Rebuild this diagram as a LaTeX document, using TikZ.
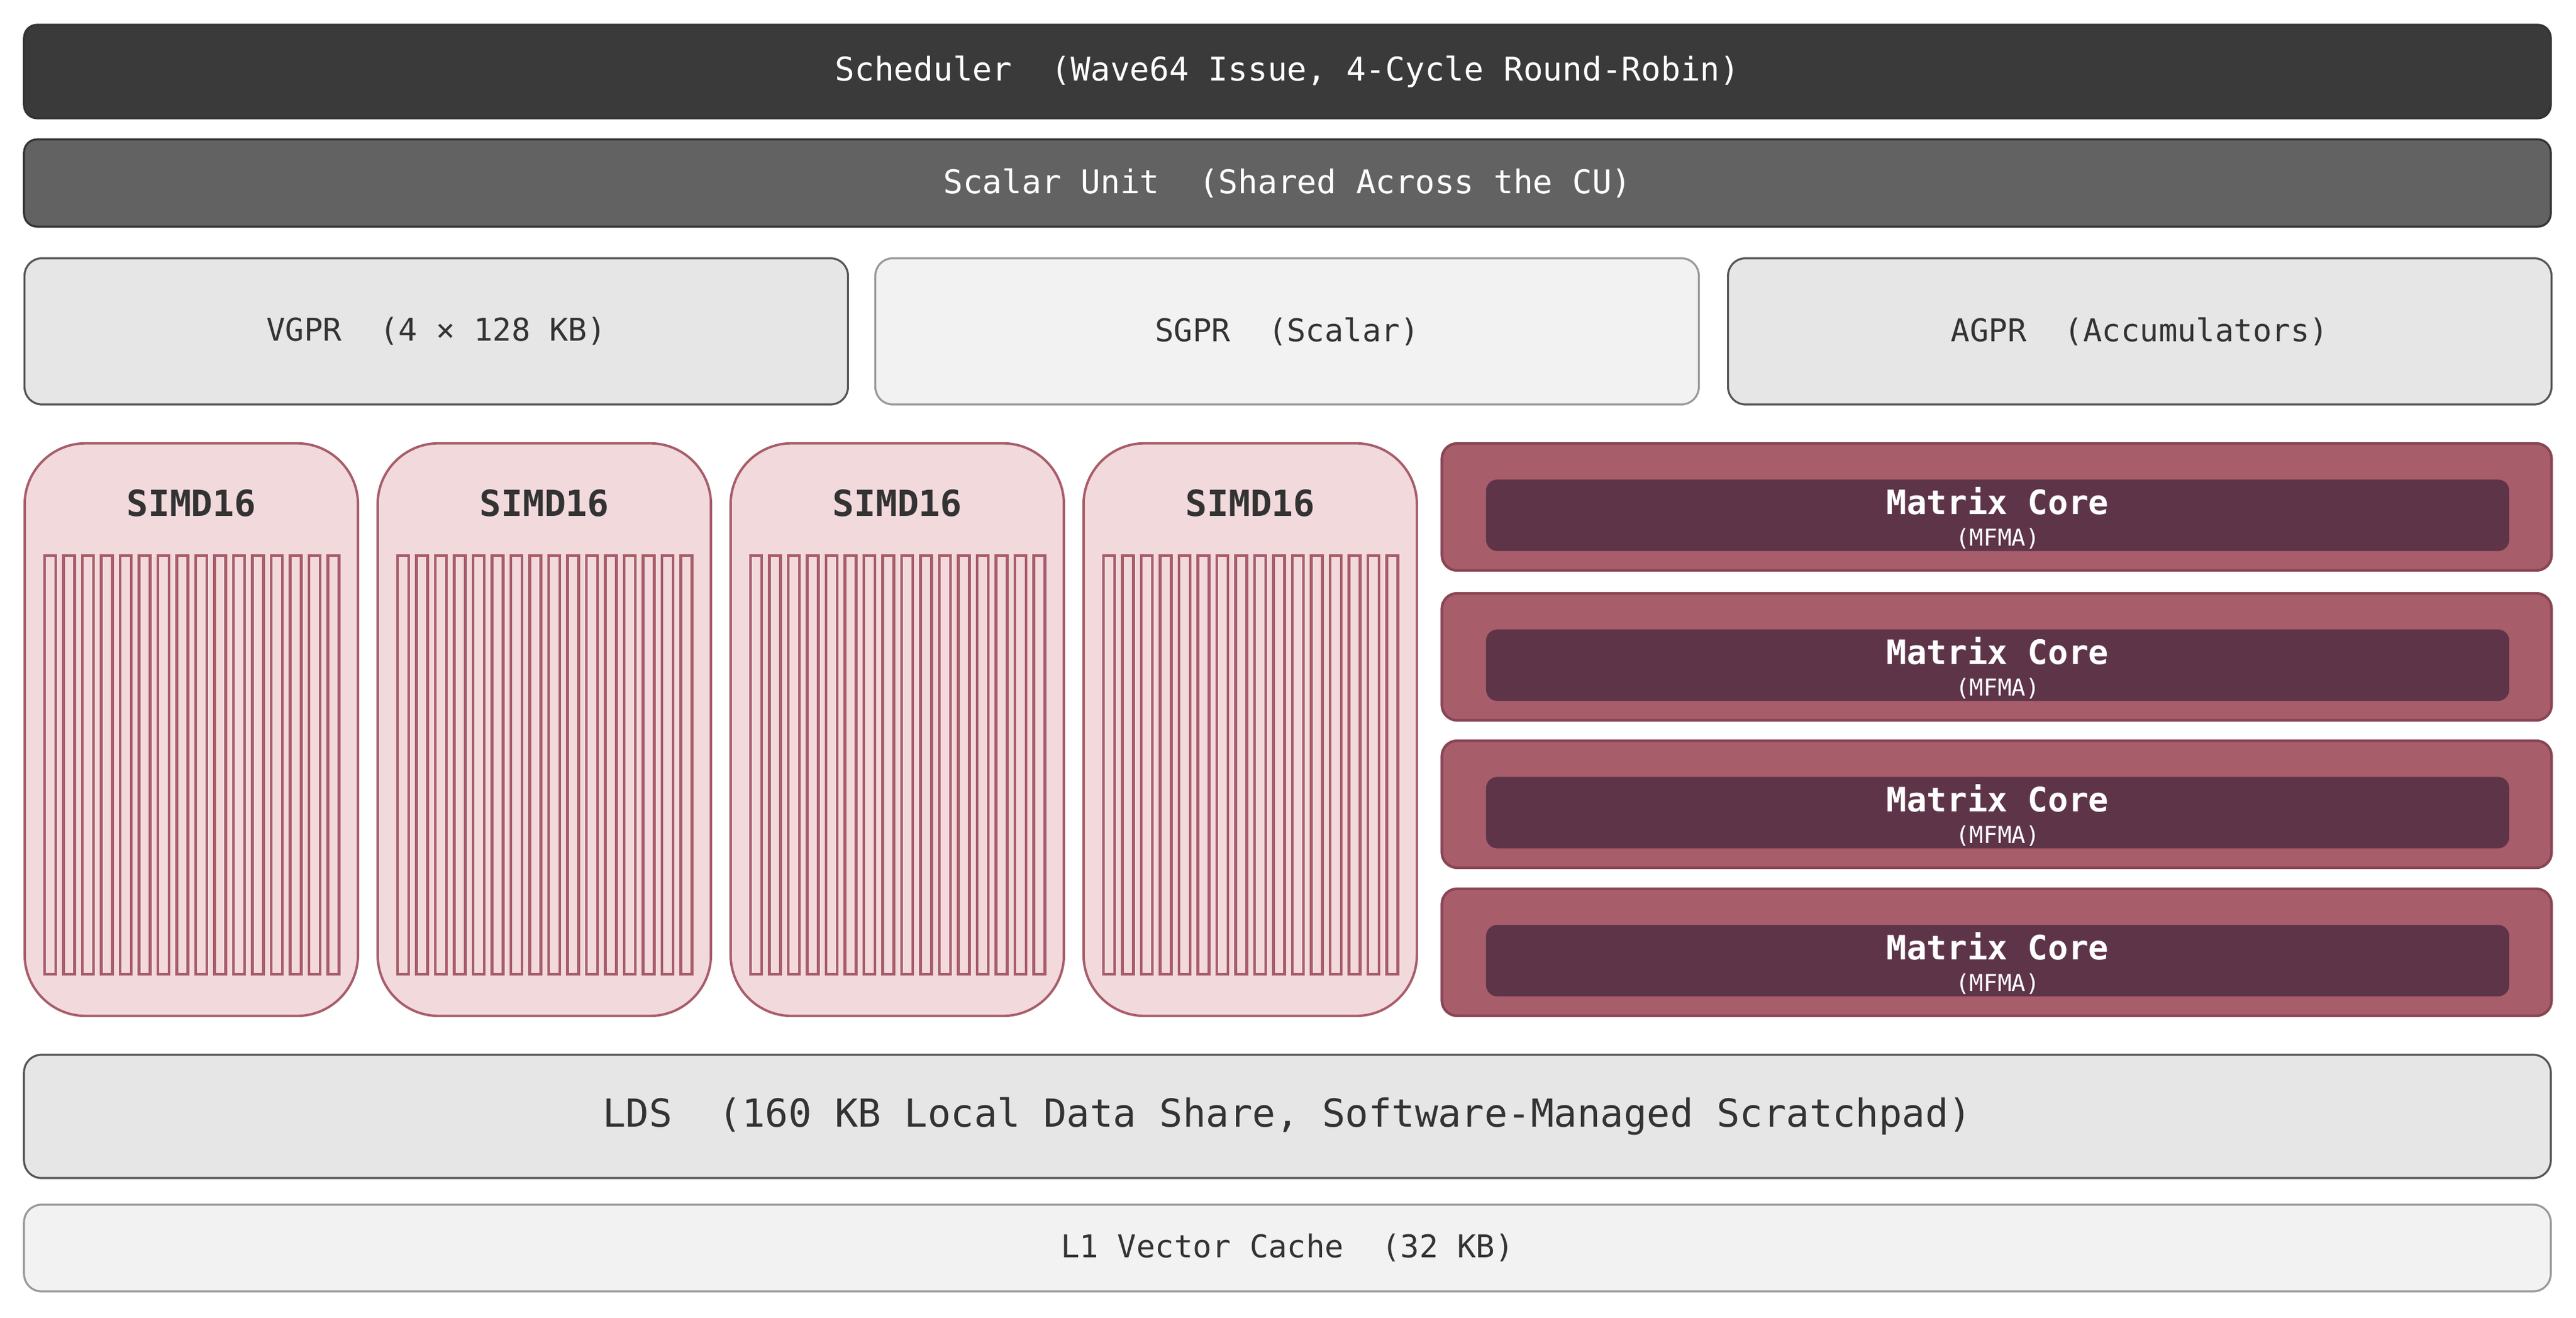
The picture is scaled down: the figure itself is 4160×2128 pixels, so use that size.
\documentclass[tikz,border=0pt]{standalone}
\usepackage{fontspec}
\setmonofont{DejaVu Sans Mono}
\definecolor{dk}{HTML}{3A3A3A}
\definecolor{md}{HTML}{626262}
\definecolor{lg}{HTML}{E6E6E6}
\definecolor{vlg}{HTML}{F2F2F2}
\definecolor{gb}{HTML}{555555}
\definecolor{pk}{HTML}{F2D9DC}
\definecolor{rs}{HTML}{A85D6A}
\definecolor{rsd}{HTML}{8A4555}
\definecolor{plum}{HTML}{5E3449}
\definecolor{tx}{HTML}{333333}
\begin{document}
\begin{tikzpicture}[x=0.01cm,y=-0.01cm,
  bar/.style={draw=black!80,line width=0.9pt,rounded corners=6pt,inner sep=0pt,text=white,font=\ttfamily\fontsize{15}{18}\selectfont},
  reg/.style={draw=gb,line width=0.9pt,rounded corners=8pt,inner sep=0pt,text=tx,font=\ttfamily\fontsize{14.4}{17}\selectfont},
  simd/.style={draw=rs,fill=pk,line width=1.1pt,rounded corners=28pt,inner sep=0pt,minimum width=5.38cm,minimum height=9.24cm},
  lane/.style={draw=rs,line width=1.2pt,inner sep=0pt,minimum width=0.18cm,minimum height=6.76cm},
  mcout/.style={draw=rsd,fill=rs,line width=1.2pt,rounded corners=7pt,inner sep=0pt,minimum width=17.91cm,minimum height=2.05cm},
  mcin/.style={draw=plum,fill=plum,rounded corners=5pt,inner sep=0pt,minimum width=16.5cm,minimum height=1.14cm},
  lbl/.style={inner sep=0pt,text=tx,font=\ttfamily\bfseries\fontsize{16.5}{19}\selectfont}]
\path[use as bounding box,fill=white] (0,0) rectangle (4160,2128);
\node[bar,fill=dk,minimum width=40.78cm,minimum height=1.51cm] (sched) at (2079,115.5) {Scheduler\ \ (Wave64 Issue, 4-Cycle Round-Robin)};
\node[bar,fill=md,minimum width=40.78cm,minimum height=1.41cm] (scalar) at (2079,295.5) {Scalar Unit\ \ (Shared Across the CU)};
\node[reg,fill=lg,minimum width=13.29cm,minimum height=2.36cm] (vgpr) at (704.5,535) {VGPR\ \ (4 × 128 KB)};
\node[reg,fill=vlg,draw=black!40,minimum width=13.29cm,minimum height=2.36cm] (sgpr) at (2078.5,535) {SGPR\ \ (Scalar)};
\node[reg,fill=lg,minimum width=13.29cm,minimum height=2.36cm] (agpr) at (3455.5,535) {AGPR\ \ (Accumulators)};
\foreach \i in {0,1,2,3}{
  \node[simd] (simd\i) at (309+570*\i,1178) {};
  \node[lbl] (simdt\i) at (309+570*\i,812) {SIMD16};
  \foreach \k in {0,...,15}{
    \node[lane] (lane\i-\k) at (40+570*\i+41+30.5*\k,1235) {};
  }
}
\foreach \y [count=\j] in {716,958,1196,1435}{
  \node[mcout] (mco\j) at (3224.5,\y+102.5) {};
  \node[mcin] (mci\j) at (3226,\y+116) {};
  \node[inner sep=0pt,text=white,font=\ttfamily\bfseries\fontsize{15.4}{18}\selectfont] (mct\j) at (3226,\y+93) {Matrix Core};
  \node[inner sep=0pt,text=white,font=\ttfamily\fontsize{10.7}{12}\selectfont] (mcs\j) at (3226,\y+154) {(MFMA)};
}
\node[reg,fill=lg,minimum width=40.78cm,minimum height=1.99cm,font=\ttfamily\fontsize{17.7}{21}\selectfont] (lds) at (2079,1802.5) {LDS\ \ (160 KB Local Data Share, Software-Managed Scratchpad)};
\node[reg,fill=vlg,draw=black!40,minimum width=40.78cm,minimum height=1.40cm] (l1) at (2079,2015) {L1 Vector Cache\ \ (32 KB)};
\end{tikzpicture}
\end{document}
